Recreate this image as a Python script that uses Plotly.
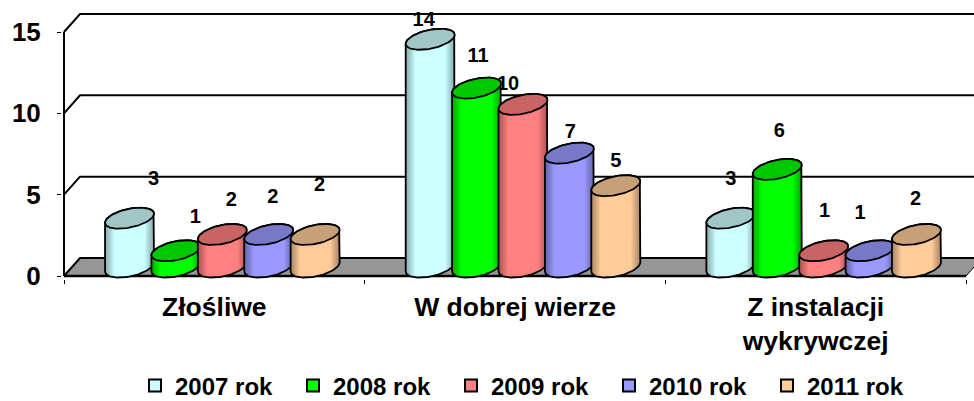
import numpy as np
import plotly.graph_objects as go

categories = ["Złośliwe", "W dobrej wierze", "Z instalacji<br>wykrywczej"]
series_names = ["2007 rok", "2008 rok", "2009 rok", "2010 rok", "2011 rok"]
v2007 = [3, 14, 3]
v2008 = [1, 11, 6]
v2009 = [2, 10, 1]
v2010 = [2, 7, 1]
v2011 = [2, 5, 2]
series_values = [v2007, v2008, v2009, v2010, v2011]
y_ticks = [0, 5, 10, 15]

# styles
body_colors = ["#CCFFFF", "#00FF00", "#FF8080", "#9999FF", "#FFCC99"]
top_colors = ["#A0C6C6", "#00C800", "#C86464", "#7878C8", "#C8A078"]
FONT = "Liberation Sans, Arial, sans-serif"

# figure geometry (pixels); the page body margin is removed when the page loads
W, H = 974, 401
L, R, T, B = 62, 0, 0, 122
px_x = 902 / 3.0                # pixels per category
px_y = 244 / 15.0               # pixels per value unit
PAD_LEFT, PAD_BOTTOM = 2, 3     # room so the axis strokes are not clipped

# pseudo-3D geometry (pixels)
DEPTH_X, DEPTH_Y = 16, 18
A, BB, K = 24.5, 9.5, 4.5       # ellipse half width, half height, tilt
STEP = 46.4                     # distance between cylinders in a group
GROUP_SHIFT = 8
BASE_UP = 9                     # ellipse centre above the front axis line

# data label displacement from the top of each cylinder (pixels)
label_dx = [[24, -6.5, 0], [19.5, 1.5, 2], [9, -15, 1], [4, 1, -10], [4.5, 0, -1]]
label_dy = [[38, 18, 38], [33, 31, 37], [33.5, 19, 39], [36.5, 20, 37], [48.5, 24, 34.5]]


def ex(cx, t):
    return cx + A * np.cos(t) / px_x


def ey(cy, t):
    return cy + (BB * np.sin(t) + K * np.cos(t)) / px_y


def centre(cat, s):
    return cat + (GROUP_SHIFT + (s - 2) * STEP) / px_x


def joined(parts):
    xs, ys = [], []
    for px_, py_ in parts:
        xs += list(px_) + [None]
        ys += list(py_) + [None]
    return xs, ys


fig = go.Figure()
dx_d, dy_d = DEPTH_X / px_x, DEPTH_Y / px_y
x0, x1 = -0.5, 2.5

# floor
fig.add_trace(go.Scatter(
    x=[x0, x0 + dx_d, x1 + dx_d, x1, x0], y=[0, dy_d, dy_d, 0, 0],
    mode="lines", fill="toself", fillcolor="#969696",
    line=dict(color="#000000", width=1),
    hoverinfo="skip", showlegend=False))

# back wall grid
gx, gy = [], []
for v in y_ticks:
    gx += [x0, x0 + dx_d, x1 + dx_d, None]
    gy += [v, v + dy_d, v + dy_d, None]
fig.add_trace(go.Scatter(x=gx, y=gy, mode="lines",
                         line=dict(color="#000000", width=2),
                         hoverinfo="skip", showlegend=False))

# axis strokes: the value axis stops at its last tick
fig.add_trace(go.Scatter(x=[x0, x0], y=[0, y_ticks[-1]], mode="lines",
                         line=dict(color="#000000", width=2),
                         hoverinfo="skip", showlegend=False))
fig.add_trace(go.Scatter(x=[x0, x1], y=[0, 0], mode="lines",
                         line=dict(color="#000000", width=2.5),
                         hoverinfo="skip", showlegend=False))

base = BASE_UP / px_y

# data labels, below the cylinders
for s, vals in enumerate(series_values):
    fig.add_trace(go.Scatter(
        x=[centre(c, s) + label_dx[s][c] / px_x for c in range(3)],
        y=[vals[c] + base + label_dy[s][c] / px_y for c in range(3)],
        text=[str(v) for v in vals], mode="text", textposition="middle center",
        textfont=dict(family=FONT, size=20, color="#000000", weight="bold"),
        hoverinfo="skip", showlegend=False))

# bars: carry the values and the legend
for s, vals in enumerate(series_values):
    fig.add_trace(go.Bar(
        x=[centre(c, s) for c in range(3)], y=vals, base=[base] * 3,
        width=0.8 * 2 * A / px_x, name=series_names[s],
        marker=dict(color=body_colors[s], line=dict(color="#000000", width=2)),
        showlegend=True, hoverinfo="y"))

ts_low = np.linspace(np.pi, 2 * np.pi, 49)
ts_up = np.linspace(0, np.pi, 49)
ts_all = np.linspace(0, 2 * np.pi, 97)

for s, vals in enumerate(series_values):
    cyl = [(centre(c, s), vals[c] + base) for c in range(3)]
    # body
    parts = []
    for c, (cx, top) in enumerate(cyl):
        parts.append((list(ex(cx, ts_low)) + list(ex(cx, ts_up)),
                      list(ey(base, ts_low)) + list(ey(top, ts_up))))
    xs, ys = joined(parts)
    fig.add_trace(go.Scatter(x=xs, y=ys, mode="lines", fill="toself",
                             fillcolor=body_colors[s], line=dict(width=0),
                             hoverinfo="skip", showlegend=False))
    # shading: nested translucent strips growing from both edges
    for w in [1, 2, 3, 4, 5, 6, 7, 8, 9]:
        parts = []
        for cx, top in cyl:
            tl = np.arccos(-1 + w / A)     # left strip edge
            left = np.linspace(np.pi, 2 * np.pi - tl, 12)
            parts.append((list(ex(cx, left)) + list(ex(cx, left[::-1])),
                          list(ey(base, left)) + list(ey(top, left[::-1]))))
            tr = np.arccos(1 - w / A)      # right strip edge
            right = np.linspace(2 * np.pi - tr, 2 * np.pi, 12)
            parts.append((list(ex(cx, right)) + list(ex(cx, right[::-1])),
                          list(ey(base, right)) + list(ey(top, right[::-1]))))
        xs, ys = joined(parts)
        fig.add_trace(go.Scatter(x=xs, y=ys, mode="lines", fill="toself",
                                 fillcolor="rgba(0,0,0,0.04)", line=dict(width=0),
                                 hoverinfo="skip", showlegend=False))
    # body outline
    parts = []
    for cx, top in cyl:
        parts.append((list(ex(cx, ts_low)) + list(ex(cx, ts_up)) + [ex(cx, ts_low[0])],
                      list(ey(base, ts_low)) + list(ey(top, ts_up)) + [ey(base, ts_low[0])]))
    xs, ys = joined(parts)
    fig.add_trace(go.Scatter(x=xs, y=ys, mode="lines",
                             line=dict(color="#000000", width=1.8),
                             hoverinfo="skip", showlegend=False))
    # cylinder top
    parts = [(list(ex(cx, ts_all)), list(ey(top, ts_all))) for cx, top in cyl]
    xs, ys = joined(parts)
    fig.add_trace(go.Scatter(x=xs, y=ys, mode="lines", fill="toself",
                             fillcolor=top_colors[s],
                             line=dict(color="#000000", width=1.8),
                             hoverinfo="skip", showlegend=False))

plot_w, plot_h = W - L - R, H - T - B
x_low = x0 - PAD_LEFT / px_x
y_low = -PAD_BOTTOM / px_y

fig.update_layout(
    width=W, height=H, autosize=False,
    margin=dict(l=L, r=R, t=T, b=B, pad=0, autoexpand=False),
    paper_bgcolor="#FFFFFF", plot_bgcolor="rgba(0,0,0,0)",
    barmode="overlay",
    font=dict(family=FONT, size=24, color="#000000", weight="bold"),
    legend=dict(orientation="h", x=(135 - L) / plot_w, xanchor="left",
                y=(plot_h - 386) / plot_h, yanchor="middle",
                entrywidth=113, entrywidthmode="pixels",
                font=dict(family=FONT, size=24, color="#000000", weight="bold"),
                bgcolor="rgba(0,0,0,0)", itemclick=False, itemdoubleclick=False),
    xaxis=dict(range=[x_low, x_low + plot_w / px_x], tickmode="array", tickvals=[0, 1, 2],
               ticktext=categories, ticks="", showgrid=False, zeroline=False,
               showline=False, ticklabelstandoff=9, automargin=False,
               tickfont=dict(family=FONT, size=26.5, color="#000000", weight="bold"),
               minor=dict(tickmode="array", tickvals=[-0.5, 0.5, 1.5, 2.5],
                          ticks="outside", ticklen=4, tickwidth=1,
                          tickcolor="#000000", showgrid=False)),
    yaxis=dict(range=[y_low, y_low + plot_h / px_y], tickmode="array", tickvals=y_ticks,
               ticks="outside", ticklen=4, tickwidth=1, tickcolor="#000000",
               showgrid=False, zeroline=False, showline=False,
               ticklabelstandoff=11, automargin=False,
               tickfont=dict(family=FONT, size=26, color="#000000", weight="bold")),
)

fig.write_html("out.html", config={"displayModeBar": False},
               post_script="document.body.style.margin='0';")
